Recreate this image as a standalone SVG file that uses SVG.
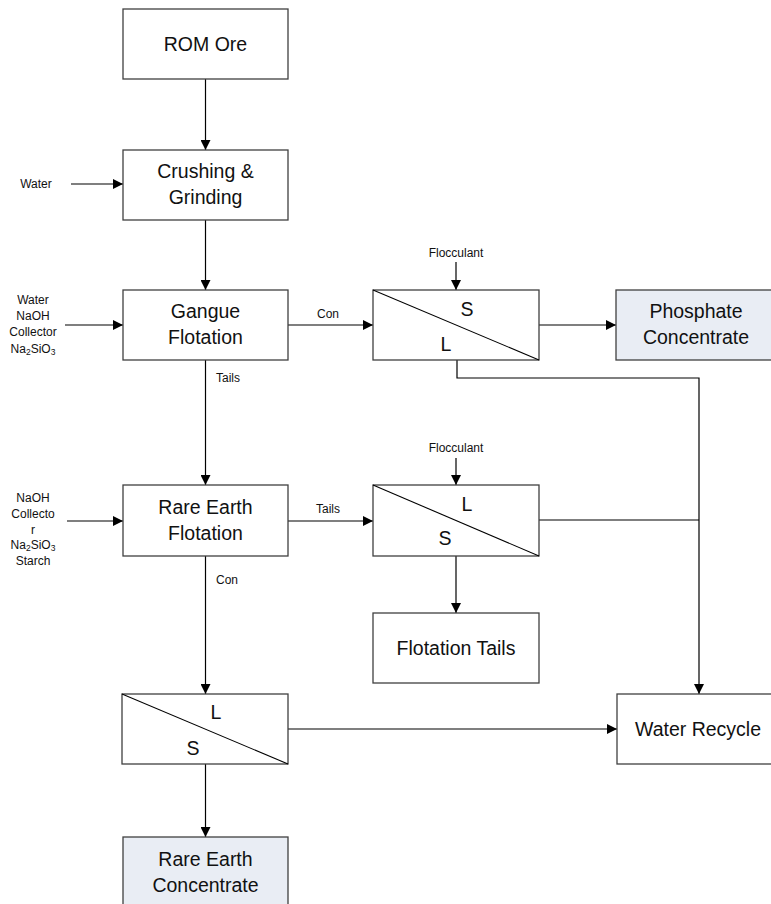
<svg xmlns="http://www.w3.org/2000/svg" width="771" height="904" viewBox="0 0 771 904">
<defs>
<marker id="ah" viewBox="0 0 10 10" refX="10" refY="5" markerWidth="10" markerHeight="10" markerUnits="userSpaceOnUse" orient="auto">
<path d="M0,0 L10,5 L0,10 z" fill="#000"/>
</marker>
<style>
.box{fill:#fff;stroke:#404040;stroke-width:1.3}
.prod{fill:#e9edf4;stroke:#404040;stroke-width:1.3}
.diag{stroke:#000;stroke-width:1.1;fill:none}
.t{font-family:"Liberation Sans",Arial,sans-serif;font-size:19.5px;fill:#111;text-anchor:middle}
.s{font-family:"Liberation Sans",Arial,sans-serif;font-size:12px;fill:#111;text-anchor:middle}
.sl{font-family:"Liberation Sans",Arial,sans-serif;font-size:12px;fill:#111;text-anchor:start}
.c{stroke:#000;stroke-width:1.2;fill:none}
.a{marker-end:url(#ah)}
</style>
</defs>
<rect width="771" height="904" fill="#fff"/>

<g id="connectors">
<path class="c a" d="M205.5,79 V150"/>
<path class="c a" d="M71,184 H123"/>
<path class="c a" d="M205.5,220 V290"/>
<path class="c a" d="M65,325 H123"/>
<path class="c a" d="M288,325 H373"/>
<path class="c a" d="M456,262 V290"/>
<path class="c a" d="M539,325 H616"/>
<path class="c a" d="M457,360 V378 H699 V694"/>
<path class="c a" d="M205.5,360 V485"/>
<path class="c a" d="M67,521 H123"/>
<path class="c a" d="M288,521 H373"/>
<path class="c a" d="M456,458 V485"/>
<path class="c" d="M539,520 H699"/>
<path class="c a" d="M456,556 V613"/>
<path class="c a" d="M205.5,556 V694"/>
<path class="c a" d="M288,729 H617"/>
<path class="c a" d="M205.5,764 V837"/>
<text class="s" x="328" y="318">Con</text>
<text class="sl" x="216" y="382">Tails</text>
<text class="s" x="328" y="513">Tails</text>
<text class="sl" x="216" y="584">Con</text>
<text class="s" x="456" y="257">Flocculant</text>
<text class="s" x="456" y="452">Flocculant</text>
<text class="s" x="36" y="188">Water</text>
<text class="s" x="33" y="304">Water</text>
<text class="s" x="33" y="320">NaOH</text>
<text class="s" x="33" y="336">Collector</text>
<text class="s" x="33" y="353">Na<tspan font-size="8.5" dy="2">2</tspan><tspan dy="-2">SiO</tspan><tspan font-size="8.5" dy="2">3</tspan></text>
<text class="s" x="33" y="502">NaOH</text>
<text class="s" x="33" y="518">Collecto</text>
<text class="s" x="33" y="534">r</text>
<text class="s" x="33" y="549">Na<tspan font-size="8.5" dy="2">2</tspan><tspan dy="-2">SiO</tspan><tspan font-size="8.5" dy="2">3</tspan></text>
<text class="s" x="33" y="565">Starch</text>
</g>

<g id="rom-ore">
<rect class="box" x="123" y="9" width="165" height="70"/>
<text class="t" x="205.5" y="51">ROM Ore</text>
</g>
<g id="crushing">
<rect class="box" x="123" y="150" width="165" height="70"/>
<text class="t" x="205.5" y="178">Crushing &amp;</text>
<text class="t" x="205.5" y="204">Grinding</text>
</g>
<g id="gangue-flotation">
<rect class="box" x="123" y="290" width="165" height="70"/>
<text class="t" x="205.5" y="318">Gangue</text>
<text class="t" x="205.5" y="344">Flotation</text>
</g>
<g id="separator-1">
<rect class="box" x="373" y="290" width="166" height="70"/>
<line class="diag" x1="373" y1="290" x2="539" y2="360"/>
<text class="t" x="467" y="316">S</text>
<text class="t" x="446" y="351">L</text>
</g>
<g id="phosphate-concentrate">
<rect class="prod" x="616" y="290" width="166" height="70"/>
<text class="t" x="696" y="318">Phosphate</text>
<text class="t" x="696" y="344">Concentrate</text>
</g>
<g id="rare-earth-flotation">
<rect class="box" x="123" y="485" width="165" height="71"/>
<text class="t" x="205.5" y="514">Rare Earth</text>
<text class="t" x="205.5" y="540">Flotation</text>
</g>
<g id="separator-2">
<rect class="box" x="373" y="485" width="166" height="71"/>
<line class="diag" x1="373" y1="485" x2="539" y2="556"/>
<text class="t" x="467" y="511">L</text>
<text class="t" x="445" y="545">S</text>
</g>
<g id="flotation-tails">
<rect class="box" x="373" y="613" width="166" height="70"/>
<text class="t" x="456" y="655">Flotation Tails</text>
</g>
<g id="separator-3">
<rect class="box" x="122" y="694" width="166" height="70"/>
<line class="diag" x1="122" y1="694" x2="288" y2="764"/>
<text class="t" x="216" y="719">L</text>
<text class="t" x="193" y="755">S</text>
</g>
<g id="water-recycle">
<rect class="box" x="617" y="694" width="166" height="70"/>
<text class="t" x="698" y="736">Water Recycle</text>
</g>
<g id="rare-earth-concentrate">
<rect class="prod" x="123" y="837" width="165" height="72"/>
<text class="t" x="205.5" y="866">Rare Earth</text>
<text class="t" x="205.5" y="892">Concentrate</text>
</g>
</svg>
